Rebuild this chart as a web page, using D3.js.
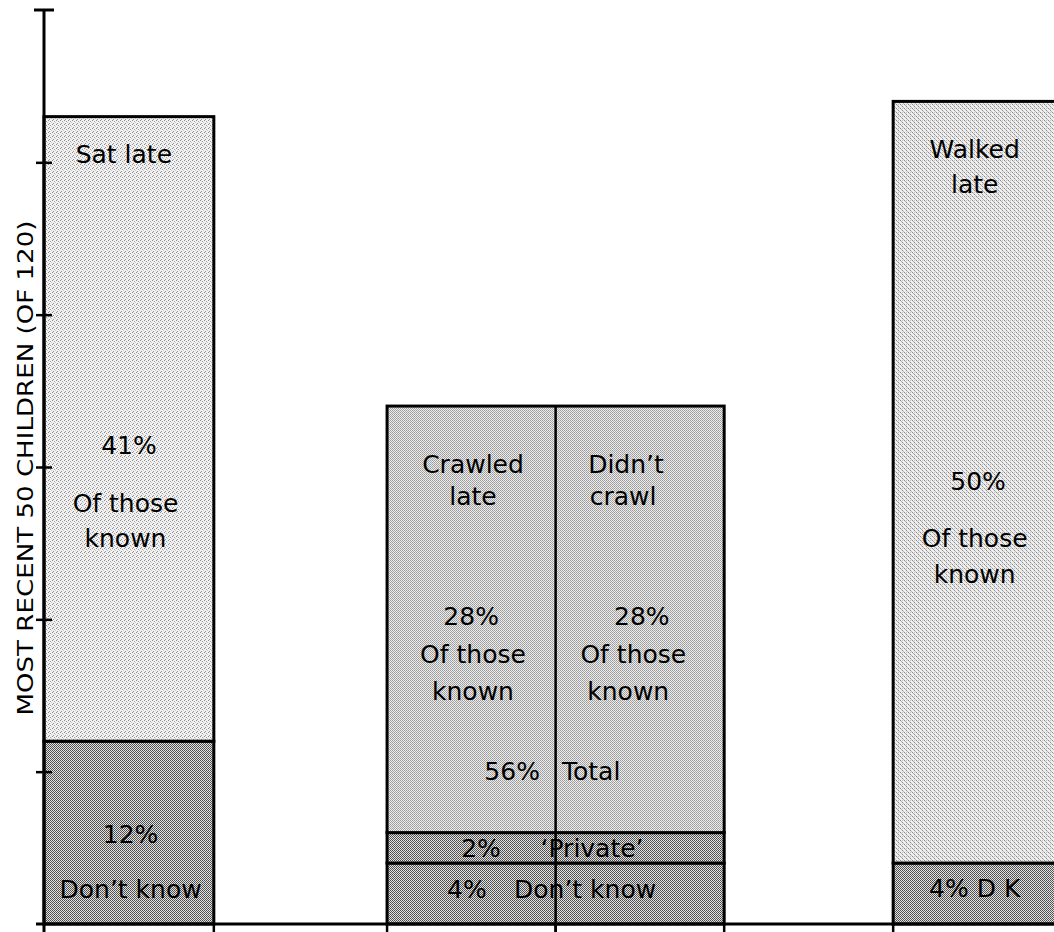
<!DOCTYPE html>
<html>
<head>
<meta charset="utf-8">
<script src="https://cdn.jsdelivr.net/npm/d3@7"></script>
<style>
  html, body { margin: 0; padding: 0; background: #fff; }
  svg { display: block; }
  text { font-family: 'DejaVu Sans', sans-serif; fill: #000; }
</style>
</head>
<body>
<script>
// values (percent of the most recent 50 children)
const categories = ['Sat', 'Crawled', 'Walked']
const dontKnow = [12, 4, 4]
const privateAns = [0, 2, 0]
const lateShare = [41, 28, 50]
const yTicks = [10, 20, 30, 40, 50]
const yMax = 60
const axisTitle = 'MOST RECENT 50 CHILDREN (OF 120)'

const box = { width: 1054, height: 932 }

// layout: where each bar sits on the x axis (in bar-width units)
const slotStart = [0, 2.02, 5]
const slotWidth = [1, 1.985, 1]

const x = d3.scaleLinear().domain([0, 6]).range([44, 1063])
const y = d3.scaleLinear().domain([0, yMax]).range([924, 10])

const svg = d3.select('body').append('svg')
  .attr('width', box.width).attr('height', box.height)

// halftone-ish fills
const defs = svg.append('defs')
function pattern(id, size, bg, dots) {
  const p = defs.append('pattern').attr('id', id)
    .attr('patternUnits', 'userSpaceOnUse')
    .attr('width', size).attr('height', size)
  p.append('rect').attr('width', size).attr('height', size).attr('fill', bg)
  dots.forEach(d => {
    p.append('rect').attr('x', d[0]).attr('y', d[1]).attr('width', 1).attr('height', 1).attr('fill', d[2])
  })
}
pattern('pLight', 4, '#f2f2f2', [[0, 0, '#8a8a8a'], [2, 1, '#a0a0a0'], [1, 3, '#959595'], [3, 2, '#c8c8c8']])
pattern('pMid', 2, '#ececec', [[0, 0, '#9a9a9a'], [1, 1, '#a8a8a8']])
pattern('pMid2', 4, '#eeeeee', [[0, 0, '#8c8c8c'], [2, 2, '#8c8c8c'], [1, 1, '#b0b0b0'], [3, 3, '#b8b8b8'], [2, 0, '#c4c4c4']])
pattern('pDark', 2, '#e2e2e2', [[0, 0, '#4a4a4a'], [1, 1, '#5a5a5a']])

const table = categories.map((c, i) => ({ cat: c, i: i, dk: dontKnow[i], priv: privateAns[i], late: lateShare[i] }))
const stacked = d3.stack().keys(['dk', 'priv', 'late'])(table)
const lateFill = ['url(#pLight)', 'url(#pMid)', 'url(#pMid2)']

const bars = svg.append('g').classed('bars', true)
stacked.forEach(layer => {
  bars.selectAll('rect.' + layer.key)
    .data(layer.filter(d => d[1] - d[0] > 0))
    .join('rect')
    .attr('class', layer.key)
    .attr('x', d => x(slotStart[d.data.i]))
    .attr('width', d => x(slotStart[d.data.i] + slotWidth[d.data.i]) - x(slotStart[d.data.i]))
    .attr('y', d => y(d[1]))
    .attr('height', d => y(d[0]) - y(d[1]))
    .attr('fill', d => layer.key === 'late' ? lateFill[d.data.i] : 'url(#pDark)')
    .attr('stroke', '#000')
    .attr('stroke-width', 3)
})

// split of the crawling bar into two halves
const crawl = table[1]
const mid = slotStart[1] + slotWidth[1] / 2
svg.append('line')
  .attr('x1', x(mid)).attr('x2', x(mid))
  .attr('y1', y(crawl.dk + crawl.priv + crawl.late)).attr('y2', box.height)
  .attr('stroke', '#000').attr('stroke-width', 2.5)

// little ticks under the baseline at each bar edge
const edges = [mid]
slotStart.forEach((s, i) => { edges.push(s); edges.push(s + slotWidth[i]) })
svg.append('g').selectAll('line')
  .data(edges.filter(e => e > 0 && e < 6))
  .join('line')
  .attr('x1', d => x(d)).attr('x2', d => x(d))
  .attr('y1', y(0)).attr('y2', box.height)
  .attr('stroke', '#000').attr('stroke-width', 2.5)

// baseline
svg.append('line')
  .attr('x1', 36).attr('x2', box.width)
  .attr('y1', y(0)).attr('y2', y(0))
  .attr('stroke', '#000').attr('stroke-width', 3)

// y axis
const yaxis = svg.append('g').classed('yaxis', true).attr('transform', `translate(${x(0)},0)`)
yaxis.call(d3.axisLeft(y).tickValues(yTicks).tickSize(8).tickFormat(''))
yaxis.select('.domain').remove()
yaxis.selectAll('.tick line').attr('x1', 8).attr('stroke', '#000').attr('stroke-width', 2.5)
yaxis.append('line')
  .attr('x1', 0).attr('x2', 0).attr('y1', y(yMax)).attr('y2', box.height)
  .attr('stroke', '#000').attr('stroke-width', 3)
yaxis.append('line')
  .attr('x1', -10).attr('x2', 10).attr('y1', y(yMax)).attr('y2', y(yMax))
  .attr('stroke', '#000').attr('stroke-width', 3)

svg.append('text')
  .attr('transform', `translate(33,${y(30) + 1}) rotate(-90)`)
  .attr('text-anchor', 'middle')
  .attr('textLength', 495).attr('lengthAdjust', 'spacingAndGlyphs')
  .style('font-size', '21px')
  .text(axisTitle)

// labels placed in chart units
const notes = [
  { t: 'Sat late', u: 0.47, v: 49.96 },
  { t: '41%', u: 0.5, v: 30.85 },
  { t: 'Of those', u: 0.48, v: 27.05 },
  { t: 'known', u: 0.48, v: 24.75 },
  { t: '12%', u: 0.51, v: 5.32 },
  { t: 'Don’t know', u: 0.51, v: 1.71 },

  { t: 'Crawled', u: 2.526, v: 29.6 },
  { t: 'late', u: 2.526, v: 27.5 },
  { t: 'Didn’t', u: 3.427, v: 29.6 },
  { t: 'crawl', u: 3.41, v: 27.5 },
  { t: '28%', u: 2.515, v: 19.63 },
  { t: '28%', u: 3.52, v: 19.63 },
  { t: 'Of those', u: 2.526, v: 17.13 },
  { t: 'Of those', u: 3.47, v: 17.13 },
  { t: 'known', u: 2.526, v: 14.7 },
  { t: 'known', u: 3.44, v: 14.7 },
  { t: '56%', u: 2.92, v: 9.45, a: 'end' },
  { t: 'Total', u: 3.05, v: 9.45, a: 'start' },
  { t: '2%', u: 2.573, v: 4.4 },
  { t: '‘Private’', u: 3.227, v: 4.4 },
  { t: '4%', u: 2.49, v: 1.71 },
  { t: 'Don’t know', u: 3.186, v: 1.71 },

  { t: 'Walked', u: 5.48, v: 50.3 },
  { t: 'late', u: 5.48, v: 48.0 },
  { t: '50%', u: 5.5, v: 28.5 },
  { t: 'Of those', u: 5.48, v: 24.75 },
  { t: 'known', u: 5.48, v: 22.4 },
  { t: '4% D K', u: 5.48, v: 1.77 }
]

svg.append('g').classed('labels', true)
  .selectAll('text')
  .data(notes)
  .join('text')
  .attr('x', d => x(d.u))
  .attr('y', d => y(d.v))
  .attr('text-anchor', d => d.a || 'middle')
  .style('font-size', '25px')
  .text(d => d.t)
</script>
</body>
</html>
